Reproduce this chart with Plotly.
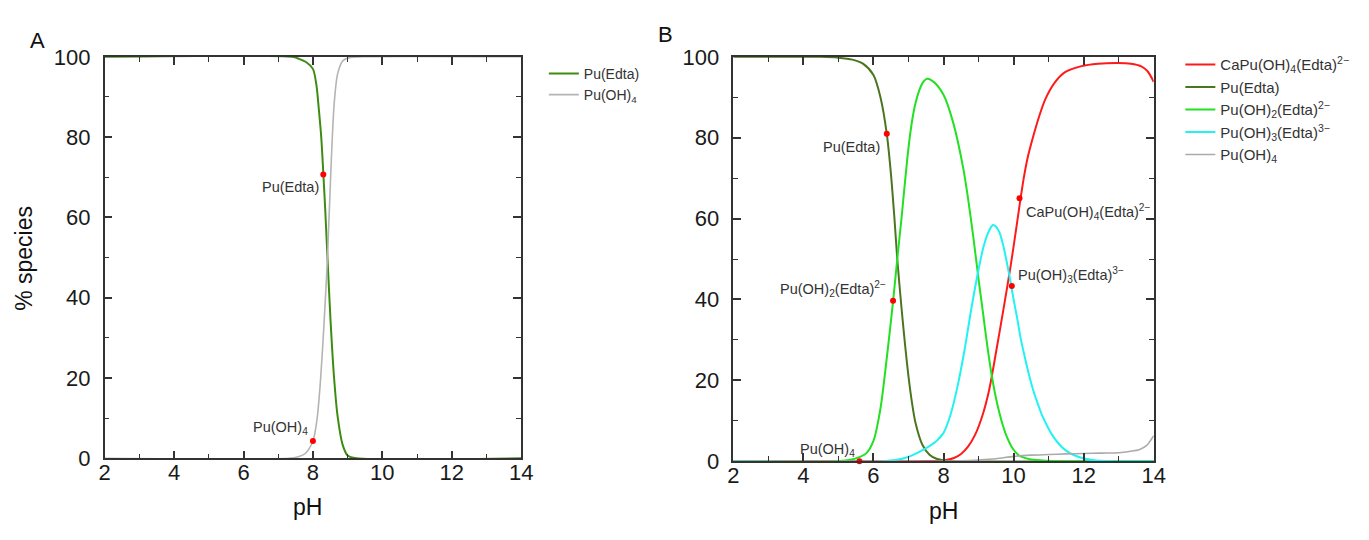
import plotly.graph_objects as go

# ---------------- Panel A data ----------------
pH_A_edta = [2, 7.4, 7.6, 7.8, 8.0, 8.1, 8.17, 8.24, 8.3, 8.36, 8.42, 8.51, 8.61, 8.71, 8.86, 9.0, 9.25, 14]
A_edta = [100, 100, 99.5, 98.7, 97, 93, 87, 80, 71, 61, 50, 34, 20, 10.6, 3.3, 0.7, 0, 0]

pH_A_oh4 = [2, 7.3, 7.58, 7.78, 8.0, 8.12, 8.22, 8.32, 8.42, 8.51, 8.61, 8.71, 8.86, 9.05, 9.44, 14]
A_oh4 = [0, 0, 0.4, 1.2, 4.3, 9.8, 19.6, 33.5, 50, 70, 88, 95.7, 99, 99.8, 100, 100]

A_dot_pH = [8.3, 8.0]
A_dot_val = [70.7, 4.3]
A_labels = ["Pu(Edta)", "Pu(OH)<sub>4</sub>"]
A_label_pH = [8.22, 7.93]
A_label_val = [67.5, 7.5]

# ---------------- Panel B data ----------------
pH_B_ca = [2, 7.0, 7.5, 8.0, 8.3, 8.5, 8.7, 8.9, 9.1, 9.3, 9.5, 9.69, 9.92, 10.1, 10.2, 10.3, 10.4, 10.55,
           10.72, 10.91, 11.19, 11.47, 11.94, 12.41, 12.98, 13.35, 13.63, 13.82, 14]
B_ca = [0, 0, 0.05, 0.2, 0.8, 1.8, 3.6, 6.5, 11, 17.5, 27, 36.5, 48.5, 59, 65, 70.5, 75, 80,
        85, 89.6, 93.8, 96.2, 97.7, 98.3, 98.5, 98.3, 97.7, 96.5, 93.8]

pH_B_edta = [2, 4.5, 5.0, 5.4, 5.7, 6.0, 6.2, 6.38, 6.5, 6.6, 6.68, 6.8, 6.9, 7.0, 7.1, 7.2, 7.4, 7.6, 7.8, 8.0, 8.5, 14]
B_edta = [100, 100, 99.8, 99.3, 98.3, 95.5, 90, 81, 71, 60, 50, 38, 29, 21, 14.5, 9.5, 4, 1.6, 0.6, 0.2, 0, 0]

pH_B_oh2 = [2, 4.8, 5.2, 5.5, 5.8, 6.0, 6.2, 6.4, 6.56, 6.68, 6.8, 6.9, 7.0, 7.1, 7.2, 7.3, 7.4, 7.53,
            7.72, 8.0, 8.28, 8.56, 8.7, 8.85, 9.0, 9.13, 9.25, 9.38, 9.5, 9.6, 9.7, 9.8, 9.97, 10.16, 10.5, 11, 11.5, 14]
B_oh2 = [0, 0, 0.2, 0.7, 2, 5, 13, 27, 39.5, 50, 60, 69, 77.5, 84, 88.5, 91.5, 93.5, 94.6,
         93.8, 90.6, 83.6, 72.6, 65, 55.5, 45, 36.5, 28.5, 21, 15.5, 11.8, 8.7, 6.2, 3.2, 1.4, 0.4, 0.1, 0, 0]

pH_B_oh3 = [2, 6.3, 6.9, 7.35, 7.8, 8.0, 8.2, 8.4, 8.6, 8.8, 9.0, 9.15, 9.3, 9.41, 9.5, 9.6, 9.7, 9.8, 9.9,
            10.0, 10.11, 10.2, 10.3, 10.45, 10.58, 10.7, 10.82, 11.0, 11.1, 11.3, 11.47, 11.7, 12.04, 12.5, 14]
B_oh3 = [0, 0, 0.8, 2.5, 5, 7, 11.5, 18.5, 27.5, 38, 47.4, 53.3, 57, 58.4, 58, 56.5, 53.5, 49.5, 45,
         40, 35, 30.5, 26.5, 21, 17, 14, 11.2, 8, 6.5, 4.2, 2.8, 1.6, 0.6, 0.1, 0]

pH_B_oh4 = [2, 8.0, 8.5, 9.0, 9.5, 10, 10.5, 11, 11.5, 12, 12.5, 13, 13.3, 13.6, 13.8, 13.9, 14]
B_oh4 = [0, 0, 0.1, 0.3, 0.6, 1.2, 1.5, 1.65, 1.8, 1.9, 2.0, 2.1, 2.4, 2.9, 3.9, 5.0, 6.3]

B_dot_pH = [6.38, 6.56, 5.6, 10.17, 9.95]
B_dot_val = [81, 39.7, 0, 65, 43.3]
B_labels = ["Pu(Edta)", "Pu(OH)<sub>2</sub>(Edta)<sup>2−</sup>", "Pu(OH)<sub>4</sub>",
            "CaPu(OH)<sub>4</sub>(Edta)<sup>2−</sup>", "Pu(OH)<sub>3</sub>(Edta)<sup>3−</sup>"]
B_label_pH = [6.25, 6.41, 5.54, 10.30, 10.07]
B_label_val = [77.7, 42.5, 2.8, 61.6, 46]
B_label_anchor = ["right", "right", "right", "left", "left"]

FONT = "Liberation Sans, Arial, sans-serif"

fig = go.Figure()

def line(x, y, name, color, width, xa, ya, leg, grp):
    fig.add_trace(go.Scatter(x=x, y=y, name=name, mode="lines",
                             line=dict(color=color, width=width, shape="spline", smoothing=0.8),
                             xaxis=xa, yaxis=ya, legend=leg, legendgroup=grp, hoverinfo="skip"))

line(pH_A_edta, A_edta, "Pu(Edta)", "#3d8c12", 2, "x", "y", "legend", "a1")
line(pH_A_oh4, A_oh4, "Pu(OH)<sub>4</sub>", "#b4b4b4", 1.6, "x", "y", "legend", "a2")

line(pH_B_ca, B_ca, "CaPu(OH)<sub>4</sub>(Edta)<sup>2−</sup>", "#ff1a1a", 2, "x2", "y2", "legend2", "b1")
line(pH_B_edta, B_edta, "Pu(Edta)", "#4b7620", 2, "x2", "y2", "legend2", "b2")
line(pH_B_oh2, B_oh2, "Pu(OH)<sub>2</sub>(Edta)<sup>2−</sup>", "#22e022", 2, "x2", "y2", "legend2", "b3")
line(pH_B_oh3, B_oh3, "Pu(OH)<sub>3</sub>(Edta)<sup>3−</sup>", "#22f2f2", 2, "x2", "y2", "legend2", "b4")
line(pH_B_oh4, B_oh4, "Pu(OH)<sub>4</sub>", "#aaaaaa", 1.6, "x2", "y2", "legend2", "b5")

fig.add_trace(go.Scatter(x=A_dot_pH, y=A_dot_val, mode="markers", marker=dict(color="#ff0000", size=6),
                         xaxis="x", yaxis="y", showlegend=False, hoverinfo="skip"))
fig.add_trace(go.Scatter(x=B_dot_pH, y=B_dot_val, mode="markers", marker=dict(color="#ff0000", size=6),
                         xaxis="x2", yaxis="y2", showlegend=False, hoverinfo="skip", cliponaxis=False))

annotations = []
for t, x, y in zip(A_labels, A_label_pH, A_label_val):
    annotations.append(dict(text=t, x=x, y=y, xref="x", yref="y", xanchor="right", yanchor="middle",
                            showarrow=False, font=dict(family=FONT, size=14.5, color="#333333")))
for t, x, y, a in zip(B_labels, B_label_pH, B_label_val, B_label_anchor):
    annotations.append(dict(text=t, x=x, y=y, xref="x2", yref="y2", xanchor=a, yanchor="middle",
                            showarrow=False, font=dict(family=FONT, size=14.5, color="#333333")))

W, H = 1369, 540
def px(x): return x / W
def py(y): return 1 - y / H

def paper_text(t, x, y, size, angle=0):
    return dict(text=t, x=px(x), y=py(y), xref="paper", yref="paper", showarrow=False,
                xanchor="center", yanchor="middle", textangle=angle,
                font=dict(family=FONT, size=size, color="#111"))

annotations += [
    paper_text("A", 32, 30, 22),
    paper_text("B", 668, 24, 22),
    paper_text("% species", 18, 258, 23, -90),
    paper_text("pH", 306, 519, 23),
    paper_text("pH", 950, 523, 23),
]

def xax(dom, anchor):
    return dict(domain=dom, anchor=anchor, range=[2, 14], tick0=2, dtick=2, ticks="inside", ticklen=8,
                tickwidth=1.5, tickcolor="#333", showline=True, linecolor="#333", linewidth=1.5,
                mirror="allticks", showgrid=False, zeroline=False, ticklabelstandoff=-6,
                minor=dict(ticks="inside", dtick=1, ticklen=5, tickwidth=1.2, tickcolor="#333"),
                tickfont=dict(family=FONT, size=22, color="#1a1a1a"))

def yax(dom, anchor):
    return dict(domain=dom, anchor=anchor, range=[0, 100], tick0=0, dtick=20, ticks="inside", ticklen=8,
                tickwidth=1.5, tickcolor="#333", showline=True, linecolor="#333", linewidth=1.5,
                mirror="allticks", showgrid=False, zeroline=False, ticklabelstandoff=8,
                minor=dict(ticks="inside", dtick=10, ticklen=5, tickwidth=1.2, tickcolor="#333"),
                tickfont=dict(family=FONT, size=22, color="#1a1a1a"))

fig.update_layout(
    width=W, height=H, margin=dict(l=0, r=0, t=0, b=0),
    paper_bgcolor="white", plot_bgcolor="white",
    xaxis=xax([px(100), px(522)], "y"),
    yaxis=yax([1 - 468 / H, 1 - 47 / H], "x"),
    xaxis2=xax([px(737), px(1163)], "y2"),
    yaxis2=yax([1 - 471 / H, 1 - 47 / H], "x2"),
    legend=dict(x=px(545), y=py(48), xanchor="left", yanchor="top", bgcolor="rgba(0,0,0,0)",
                font=dict(family=FONT, size=14, color="#333"), traceorder="normal", tracegroupgap=0),
    legend2=dict(x=px(1190), y=py(38), xanchor="left", yanchor="top", bgcolor="rgba(0,0,0,0)",
                 font=dict(family=FONT, size=15, color="#333"), traceorder="grouped", tracegroupgap=0),
    annotations=annotations,
    showlegend=True,
)

fig.write_html("out.html")
